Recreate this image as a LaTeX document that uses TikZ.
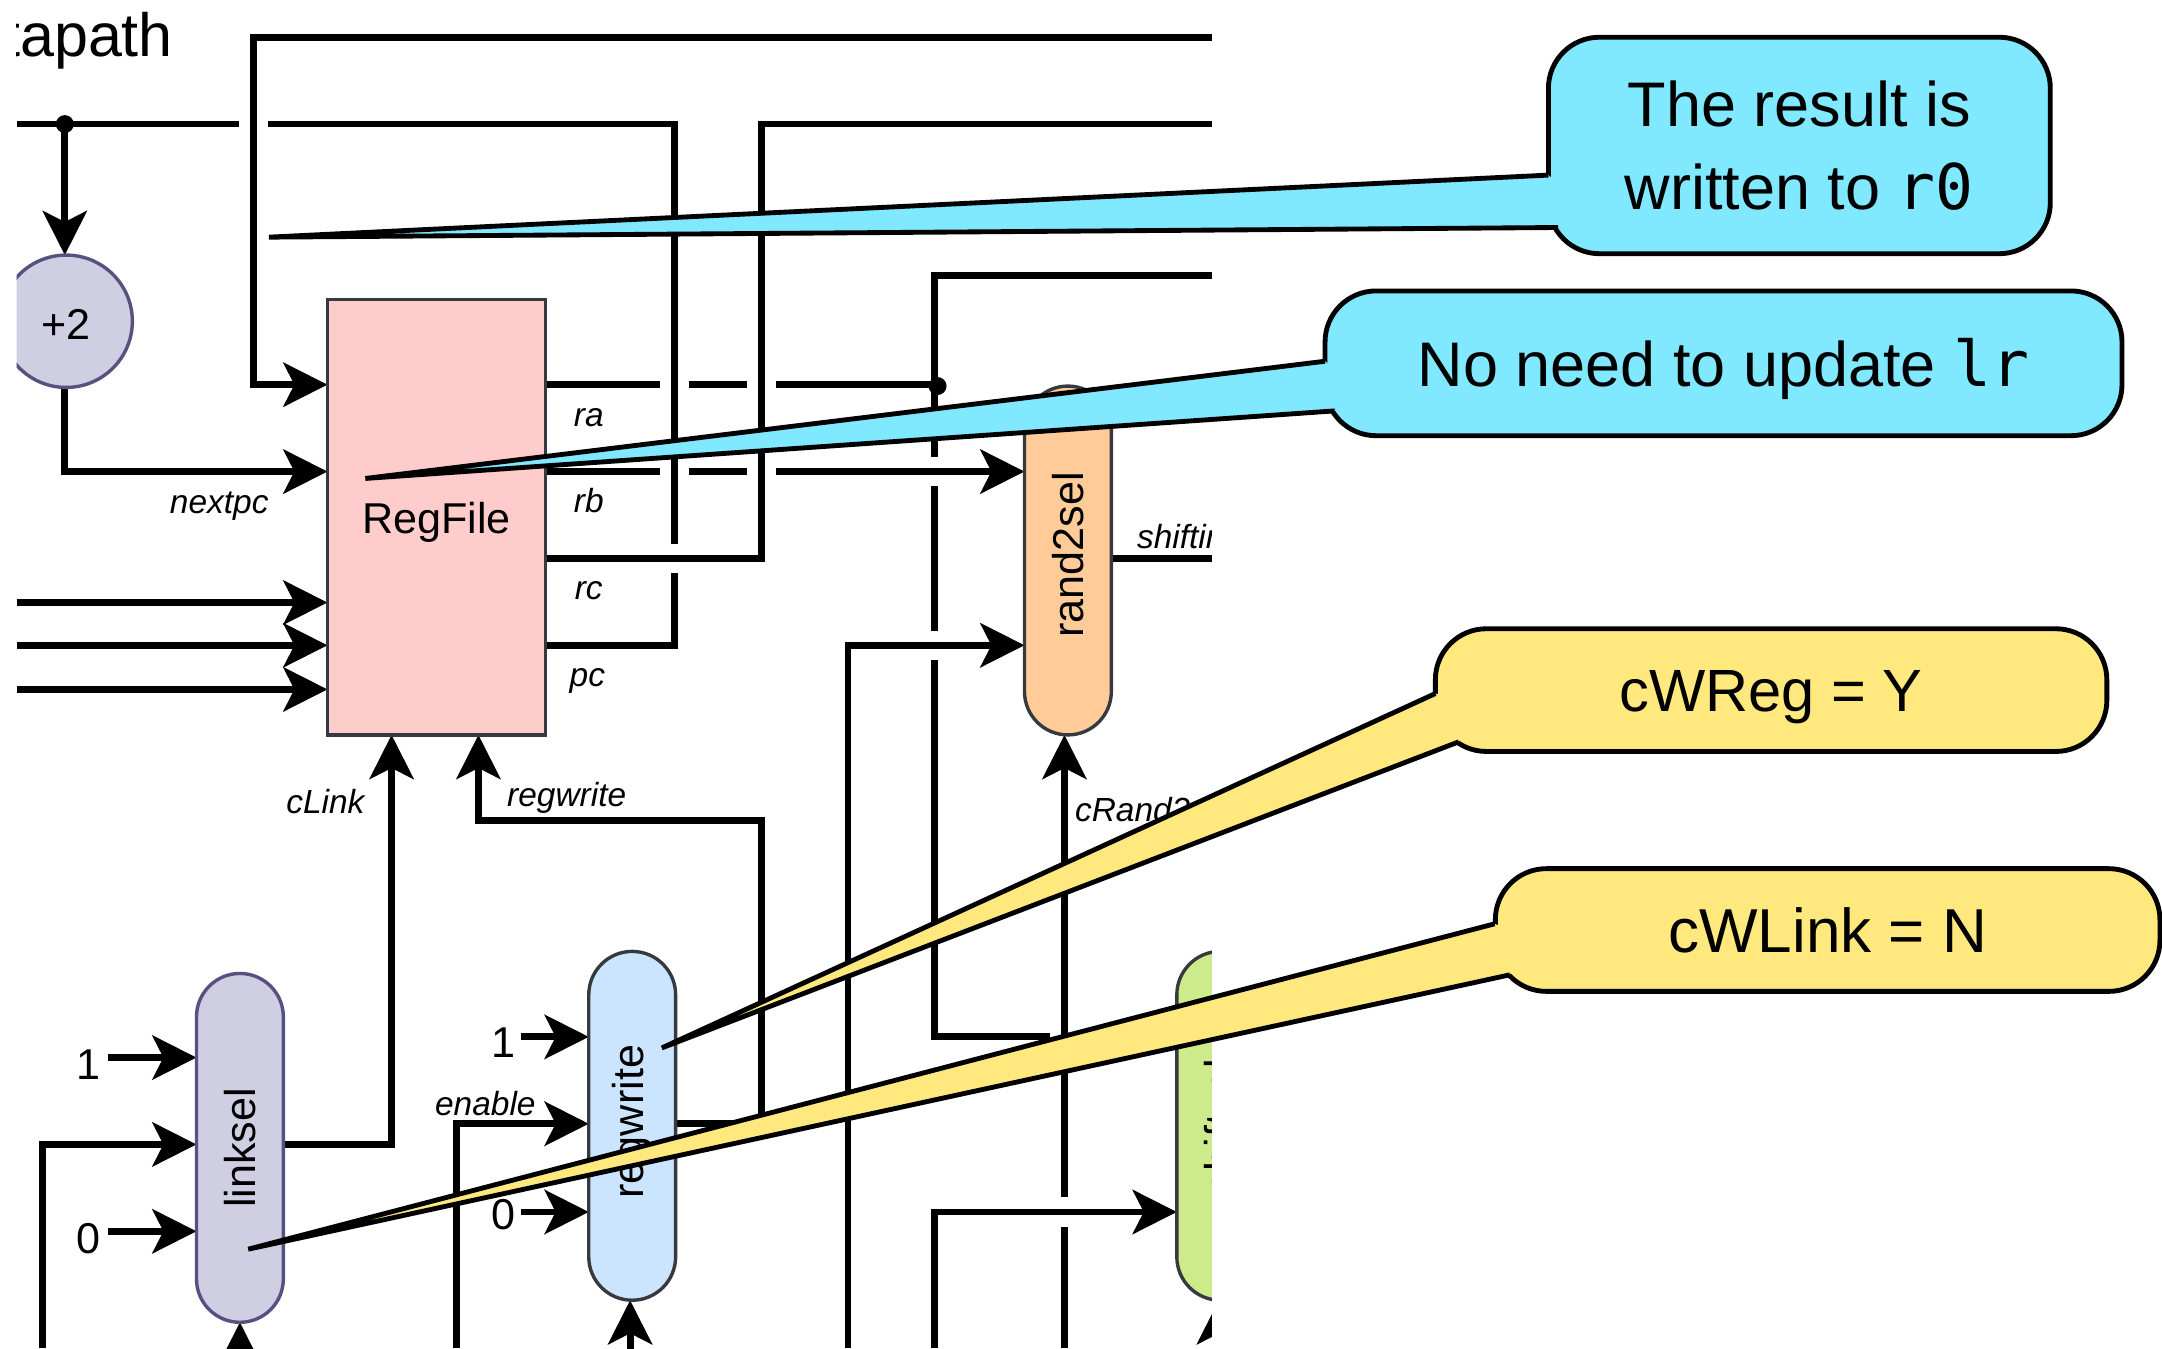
\documentclass[tikz,border=0pt]{standalone}
\usepackage{fontspec}
\setmainfont{Liberation Sans}
\newfontfamily\calloutfont{Liberation Sans}
\newfontfamily\codefont{DejaVu Sans Mono}
\definecolor{PinkFill}{HTML}{FFCCCC}
\definecolor{OrangeFill}{HTML}{FFCC99}
\definecolor{BlueFill}{HTML}{CCE5FF}
\definecolor{GreenFill}{HTML}{CDEB8B}
\definecolor{PurpleFill}{HTML}{D0CEE2}
\definecolor{PurpleEdge}{HTML}{56517E}
\definecolor{DarkEdge}{HTML}{36393D}
\definecolor{CalloutCyan}{HTML}{80E8FF}
\definecolor{CalloutYellow}{HTML}{FFE97F}
\usetikzlibrary{arrows.meta, positioning, calc, backgrounds}
\tikzset{
  wire/.style={line width=1.4pt},
  sig/.style={wire, -{Stealth[length=3.2mm, width=3.2mm, inset=0.8mm]}},
  hop/.style={preaction={draw=white, line width=6pt}},
  capsule/.style={draw=DarkEdge, line width=0.7pt, minimum width=6.3mm, minimum height=25.3mm,
    rounded corners=3.15mm, inner sep=0pt, outer sep=0pt, font=\fontsize{8.9}{10}\selectfont},
  tag/.style={font=\fontsize{6.9}{8}\selectfont\itshape, inner sep=0pt},
  num/.style={font=\fontsize{8.9}{10}\selectfont, inner sep=0pt},
  callout/.style={draw=black, line width=1pt, rounded corners=3.7mm, inner sep=0pt, outer sep=0pt,
    align=center, font=\fontsize{13}{17}\selectfont\calloutfont},
  tail/.style={draw=black, line width=1pt, line join=miter, miter limit=2},
}
\begin{document}
\begin{tikzpicture}[x=0.1mm, y=-0.1mm, >=Stealth]
  \useasboundingbox (0,0) rectangle (1568,978);
  \begin{scope}
    \clip (12,0) rectangle (879,978);
    \node[anchor=base west, inner sep=0pt, font=\fontsize{12.6}{14}\selectfont] (title) at (-55,41) {Datapath};
    % Blocks
    \node[draw=DarkEdge, fill=PinkFill, line width=0.7pt, minimum width=15.8mm, minimum height=31.6mm,
      inner sep=0pt, outer sep=0pt, font=\fontsize{8.9}{10}\selectfont] (regfile) at (316.5,375) {\raisebox{-1.2mm}[0pt][0pt]{RegFile}};
    \node[circle, draw=PurpleEdge, fill=PurpleFill, line width=0.7pt, minimum size=9.6mm, inner sep=0pt,
      outer sep=0pt, font=\fontsize{8.9}{10}\selectfont] (plustwo) at (48,233) {\raisebox{-1.3mm}[0pt][0pt]{+2}};
    \node[capsule, fill=OrangeFill] (rand2sel) at (774.5,406.5) {\rotatebox{90}{\hspace*{0.8mm}rand2sel}};
    \node[capsule, fill=PurpleFill, draw=PurpleEdge] (linksel) at (174,832.5) {\rotatebox{90}{linksel}};
    \node[capsule, fill=BlueFill] (regwrite) at (458.5,816.5) {\rotatebox{90}{\hspace*{0.6mm}regwrite}};
    \node[capsule, fill=GreenFill] (shiftsel) at (885,816.5) {\rotatebox{90}{shiftval}};
    % Labels
    \node[tag, anchor=base] (ralabel) at (427,309) {ra};
    \node[tag, anchor=base] (rblabel) at (427,372) {rb};
    \node[tag, anchor=base] (rclabel) at (427,435) {rc};
    \node[tag, anchor=base] (pclabel) at (426,498) {pc};
    \node[tag] (nextlabel) at (159,367) {nextpc};
    \node[tag] (linklabel) at (236,581) {cLink};
    \node[tag] (wrlabel) at (411,579) {regwrite};
    \node[tag] (enlabel) at (352,800) {enable};
    \node[tag, anchor=west] (shiftlabel) at (824,389) {shiftin};
    \node[tag, anchor=west] (randlabel) at (779,587) {cRand2};
    \node[num] (linkone) at (64,772) {1};
    \node[num] (linkzero) at (64,898) {0};
    \node[num] (wrone) at (365,756) {1};
    \node[num] (wrzero) at (365,881) {0};
  \end{scope}
  \begin{scope}[on background layer]
    \clip (12,0) rectangle (879,978);
    % Free ends of the wires
    \coordinate (topright) at (879,27);
    \coordinate (pcleft) at (12,90);
    \coordinate (rcright) at (879,90);
    \coordinate (raright) at (879,200);
    \coordinate (shiftout) at (879,405);
    \coordinate (midright) at (879,752);
    \coordinate (lowleft) at (31,978);
    \coordinate (enleft) at (331,978);
    \coordinate (ainleft) at (615,978);
    \coordinate (binleft) at (678,978);
    \coordinate (selin) at (772,978);
    % Wires from the register file
    \draw[wire] (raright) -| (678,752) -- (midright);
    \draw[wire] (regfile.east |- 0,279) -- (680,279);
    \fill (680,280) circle (6.5);
    \draw[sig, hop] (regfile.east |- 0,342) -- (rand2sel.west |- 0,342);
    \draw[sig, hop] (ainleft) |- (rand2sel.west |- 0,468);
    \draw[wire, hop] (regfile.east |- 0,468) -| (489,90) -- (pcleft);
    \draw[wire, hop] (regfile.east |- 0,405) -| (552,90) -- (rcright);
    \draw[sig, hop] (topright) -| (184,279) -- (regfile.west |- 0,279);
    \fill (47,90) circle (6.5);
    \draw[sig] (47,90) -- (47,185);
    \draw[sig] (47,281) |- (regfile.west |- 0,342);
    \foreach \y in {437,468,500}
      \draw[sig] (12,\y) -- (regfile.west |- 0,\y);
    % Control
    \draw[sig] (linksel.east |- 0,830) -| (284,533);
    \draw[sig] (regwrite.east |- 0,815) -| (552,595) -| (347,533);
    \draw[sig, hop] (selin) -- (rand2sel.south -| selin);
    \draw[sig, hop] (binleft) |- (shiftsel.west |- 0,879);
    \draw[wire] (rand2sel.east |- 0,405) -- (shiftout);
    % Inputs of the selectors
    \draw[sig] (lowleft) |- (linksel.west |- 0,830);
    \draw[sig] (enleft) |- (regwrite.west |- 0,815);
    \draw[sig] (78,767) -- (linksel.west |- 0,767);
    \draw[sig] (78,893) -- (linksel.west |- 0,893);
    \draw[sig] (378,752) -- (regwrite.west |- 0,752);
    \draw[sig] (378,879) -- (regwrite.west |- 0,879);
    \draw[sig] (174,1000) -- (linksel.south);
    \draw[sig] (457,1000) -- (regwrite.south -| 457,0);
    \draw[sig] (884,1000) -- (shiftsel.south -| 884,0);
  \end{scope}
  % Callouts
  \node[callout, fill=CalloutCyan, minimum width=36.4mm, minimum height=15.7mm] (resultnote) at (1305,105.5)
    {The result is\\written to {\codefont r0}};
  \coordinate (resulttip) at (195,172);
  \fill[CalloutCyan] (1123,127) -- (resulttip) -- (1130,165) -- (1150,150) -- cycle;
  \draw[tail] (1123,127) -- (resulttip) -- (1130,165);
  \node[callout, fill=CalloutCyan, minimum width=57.8mm, minimum height=10.5mm] (lrnote) at (1250,263.5)
    {\raisebox{-1.65mm}[0pt][0pt]{No need to update {\codefont lr}}};
  \coordinate (lrtip) at (265,347);
  \fill[CalloutCyan] (961,262) -- (lrtip) -- (968,298) -- (985,280) -- cycle;
  \draw[tail] (961,262) -- (lrtip) -- (968,298);
  \node[callout, fill=CalloutYellow, minimum width=48.7mm, minimum height=8.9mm, font=\fontsize{12.3}{15}\selectfont\calloutfont] (wregnote) at (1284.5,500.5)
    {\raisebox{-1.55mm}[0pt][0pt]{cWReg = Y}};
  \coordinate (wregtip) at (480,760);
  \fill[CalloutYellow] (1041,503) -- (wregtip) -- (1058,538) -- (1070,510) -- cycle;
  \draw[tail] (1041,503) -- (wregtip) -- (1058,538);
  \node[callout, fill=CalloutYellow, minimum width=48.2mm, minimum height=8.9mm, font=\fontsize{12.8}{15}\selectfont\calloutfont] (wlinknote) at (1325.5,674.5)
    {cWLink = N};
  \coordinate (wlinktip) at (180,906);
  \fill[CalloutYellow] (1084,670) -- (wlinktip) -- (1095,707) -- (1110,680) -- cycle;
  \draw[tail] (1084,670) -- (wlinktip) -- (1095,707);
\end{tikzpicture}
\end{document}
